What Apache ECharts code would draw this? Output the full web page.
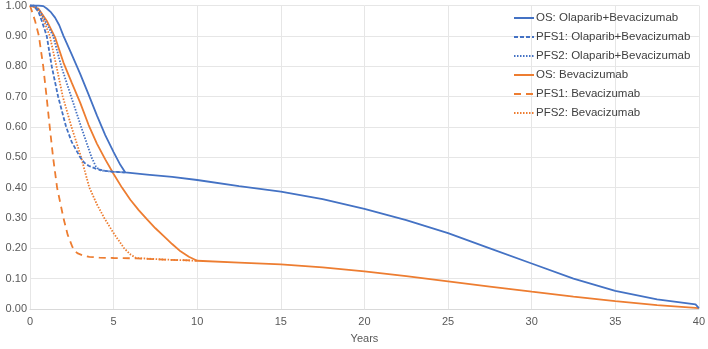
<!DOCTYPE html>
<html><head><meta charset="utf-8">
<script src="https://cdn.jsdelivr.net/npm/echarts@6/dist/echarts.min.js"></script>
<style>html,body{margin:0;padding:0;background:#fff}#c{width:708px;height:349px}</style>
</head><body><div id="c"></div>
<script>
// Data (years, survival proportion)
const osOlapT = [0,0.5,0.8,1,1.25,1.5,1.75,2,2.5,3,3.5,4,4.5,5,5.4,5.7,7,8.5,10,12.5,15,17.5,20,22.5,25,27.5,30,32.5,35,37.5,39.8,40];
const osOlapV = [1.00,1.00,0.998,0.99,0.978,0.96,0.935,0.90,0.838,0.775,0.707,0.638,0.573,0.517,0.475,0.45,0.443,0.435,0.425,0.405,0.387,0.362,0.33,0.293,0.25,0.20,0.15,0.10,0.06,0.032,0.015,0.003];

const pfs1OlapT = [0,0.2,0.5,0.7,1,1.3,1.68,2.16,2.5,3,3.25,3.5,4,4.5,5,5.7];
const pfs1OlapV = [1.00,1.00,0.98,0.95,0.90,0.80,0.70,0.60,0.55,0.50,0.482,0.472,0.461,0.455,0.452,0.45];

const pfs2OlapT = [0,0.3,0.6,1,1.38,1.87,2.46,3.06,3.68,3.95,4.2,4.5,5,5.7];
const pfs2OlapV = [1.00,1.00,0.98,0.94,0.90,0.80,0.70,0.60,0.50,0.468,0.457,0.455,0.452,0.45];

const osBevT = [0,0.5,1,1.5,2,2.5,3,3.5,4,4.5,5,5.5,6,6.5,7,7.5,8,8.5,9,9.5,10,12.5,15,17.5,20,22.5,25,27.5,30,32.5,35,37.5,40];
const osBevV = [1.00,0.99,0.95,0.895,0.812,0.745,0.68,0.607,0.545,0.493,0.445,0.40,0.36,0.326,0.295,0.266,0.24,0.214,0.19,0.172,0.159,0.153,0.147,0.137,0.124,0.108,0.091,0.074,0.057,0.041,0.026,0.013,0.003];

const pfs1BevT = [0,0.3,0.53,0.79,0.99,1.18,1.38,1.62,2.0,2.25,2.53,2.7,2.86,3.2,3.55,4.15,5,6.35,8,10];
const pfs1BevV = [1.00,0.95,0.90,0.80,0.70,0.60,0.50,0.40,0.30,0.245,0.205,0.19,0.183,0.176,0.172,0.169,0.168,0.167,0.163,0.159];

const pfs2BevT = [0,0.3,0.6,0.9,1.18,1.58,1.96,2.48,3.06,3.3,3.55,4.0,4.44,5.0,5.63,6.0,6.35,8,10];
const pfs2BevV = [1.00,0.995,0.975,0.94,0.90,0.80,0.70,0.60,0.50,0.45,0.40,0.345,0.30,0.25,0.20,0.18,0.168,0.163,0.159];

const seriesNames = ['OS: Olaparib+Bevacizumab','PFS1: Olaparib+Bevacizumab','PFS2: Olaparib+Bevacizumab','OS: Bevacizumab','PFS1: Bevacizumab','PFS2: Bevacizumab'];
const xTicks = [0,5,10,15,20,25,30,35,40];

const BLUE = '#4472C4', ORANGE = '#ED7D31';
const pair = (t, v) => t.map((x, i) => [x, v[i]]);
const defs = [
  [osOlapT, osOlapV, BLUE, 'solid'],
  [pfs1OlapT, pfs1OlapV, BLUE, [4, 2]],
  [pfs2OlapT, pfs2OlapV, BLUE, [1.5, 1.5]],
  [osBevT, osBevV, ORANGE, 'solid'],
  [pfs1BevT, pfs1BevV, ORANGE, [7, 5]],
  [pfs2BevT, pfs2BevV, ORANGE, [1.5, 1.5]]
];

const chart = echarts.init(document.getElementById('c'), null, {renderer: 'canvas'});
chart.setOption({
  animation: false,
  textStyle: {fontFamily: 'Liberation Sans, Arial, sans-serif'},
  grid: {left: 30, right: 6, top: 5, bottom: 34, containLabel: false},
  legend: {
    orient: 'vertical', left: 513, top: 12, padding: 0,
    itemWidth: 20, itemHeight: 12, itemGap: 7,
    itemStyle: {opacity: 0},
    textStyle: {color: '#404040', fontSize: 11.5, padding: [0, 0, 0, -3]},
    data: seriesNames
  },
  xAxis: {
    type: 'value', min: xTicks[0], max: xTicks[xTicks.length - 1], interval: 5,
    name: 'Years', nameLocation: 'middle', nameGap: 24,
    nameTextStyle: {color: '#595959', fontSize: 11},
    axisLine: {show: true, lineStyle: {color: '#d9d9d9', width: 1}},
    axisTick: {show: false},
    axisLabel: {color: '#595959', fontSize: 11, margin: 7},
    splitLine: {show: true, lineStyle: {color: '#e6e6e6'}}
  },
  yAxis: {
    type: 'value', min: 0, max: 1, interval: 0.1,
    axisLine: {show: false}, axisTick: {show: false},
    axisLabel: {color: '#595959', fontSize: 11, margin: 3, formatter: v => v.toFixed(2)},
    splitLine: {show: true, lineStyle: {color: '#e6e6e6'}}
  },
  series: defs.map((d, i) => ({
    name: seriesNames[i], type: 'line', data: pair(d[0], d[1]),
    symbol: 'none', smooth: false,
    lineStyle: {color: d[2], width: 1.8, type: d[3]},
    itemStyle: {color: d[2]},
    z: 10 - i
  }))
});
</script></body></html>
